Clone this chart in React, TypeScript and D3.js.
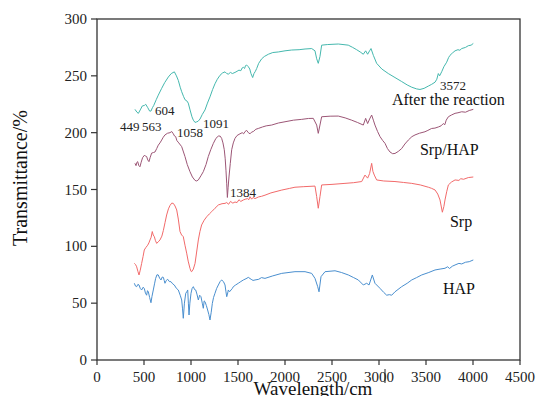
import * as d3 from 'd3';

// FTIR spectra, [wavenumber, transmittance]
const afterReaction: [number, number][] = [
  [404, 220.5], [425, 218], [440, 217], [460, 220], [482, 223.5], [505, 224], [518, 225], [540, 222],
  [560, 219], [574, 219], [590, 222], [604, 224], [630, 229], [652, 233], [688, 239], [720, 244],
  [759, 249], [790, 252], [823, 253.5], [845, 250], [865, 246], [885, 240], [901, 236], [920, 232],
  [936, 229], [955, 228], [971, 226], [990, 220], [1010, 214], [1025, 211], [1043, 209], [1060, 209.5],
  [1075, 210], [1096, 212], [1120, 216], [1149, 220], [1175, 226], [1202, 231.5], [1230, 238], [1255, 243],
  [1280, 247], [1309, 250.5], [1335, 252.5], [1362, 253.5], [1380, 252], [1397, 251.5], [1420, 253],
  [1440, 252], [1468, 253], [1490, 254], [1510, 255], [1530, 254.5], [1545, 257], [1557, 257.5],
  [1570, 256.5], [1580, 259], [1592, 259.5], [1610, 258], [1625, 256], [1638, 252], [1656, 248.5],
  [1670, 252], [1685, 254], [1699, 256.5], [1720, 261], [1752, 265], [1780, 267], [1823, 269],
  [1870, 270.5], [1929, 271], [2000, 272], [2071, 272.7], [2150, 273], [2213, 273.6], [2284, 274],
  [2319, 272], [2337, 265], [2354, 261], [2372, 267], [2390, 277], [2450, 277.5], [2567, 278],
  [2673, 277], [2720, 275], [2762, 273], [2800, 271], [2833, 269], [2858, 272], [2879, 269], [2900, 272],
  [2915, 274], [2940, 268], [2975, 261], [3030, 256], [3099, 252], [3170, 248.5], [3241, 245],
  [3300, 242], [3348, 240], [3400, 238.5], [3436, 238], [3480, 239], [3525, 241], [3560, 242.5],
  [3596, 244.4], [3615, 247], [3631, 252], [3645, 250], [3667, 253.6], [3690, 258], [3720, 262],
  [3740, 266], [3755, 268], [3780, 270], [3809, 272], [3840, 273], [3860, 272.5], [3880, 274],
  [3920, 275], [3950, 276.5], [3980, 277], [4003, 278.5],
];

const srpHap: [number, number][] = [
  [404, 173], [415, 171], [425, 174], [433, 174.5], [445, 171], [457, 170], [470, 174], [485, 178],
  [503, 180], [515, 179.5], [528, 179], [540, 176], [553, 174.5], [565, 178], [581, 182], [600, 182.5],
  [617, 183], [635, 186], [652, 189], [670, 191], [688, 193.5], [705, 196], [723, 198], [750, 199.5],
  [777, 200], [795, 201], [812, 199], [825, 197], [837, 196.5], [850, 193], [870, 191], [901, 187.7],
  [920, 183], [936, 179], [960, 172], [989, 165.7], [1015, 161], [1043, 158], [1060, 157.5],
  [1078, 158.4], [1105, 162], [1131, 165.7], [1160, 172], [1184, 179], [1210, 185], [1238, 190.6],
  [1265, 195], [1291, 197], [1310, 197], [1326, 195], [1340, 191], [1354, 185], [1364, 177],
  [1372, 167], [1380, 155], [1387, 143], [1395, 152], [1404, 161], [1418, 173], [1433, 185],
  [1450, 191], [1468, 195], [1490, 197.5], [1521, 199], [1545, 200], [1560, 199], [1575, 201],
  [1592, 202], [1610, 200], [1628, 199], [1645, 200.5], [1663, 201], [1690, 203], [1716, 203.7],
  [1760, 205], [1800, 206], [1858, 206.7], [1930, 208.5], [2000, 209.6], [2090, 211], [2178, 211.7],
  [2250, 212.5], [2301, 212.6], [2337, 206.7], [2354, 199.4], [2372, 206.7], [2390, 214], [2480, 214.5],
  [2567, 214.6], [2640, 213], [2709, 211], [2770, 209], [2833, 206.7], [2858, 212.6], [2879, 208],
  [2900, 212], [2922, 215.5], [2940, 211], [2957, 206.7], [2985, 201], [3011, 196.5], [3040, 193],
  [3064, 190.6], [3090, 186], [3117, 183], [3145, 181.5], [3170, 181.7], [3205, 183.5], [3241, 186],
  [3275, 190], [3312, 193.5], [3350, 196.5], [3383, 198], [3430, 199.5], [3489, 200.8], [3520, 202],
  [3560, 203.7], [3595, 204], [3631, 205], [3660, 206], [3684, 208], [3700, 207], [3715, 211],
  [3738, 214], [3770, 215.5], [3809, 217], [3840, 217.5], [3880, 218.4], [3920, 218], [3960, 219.5],
  [4003, 220.5],
];

const srp: [number, number][] = [
  [397, 85], [410, 84], [422, 82], [435, 78], [447, 74.8], [460, 79], [475, 85], [490, 91], [503, 96.8],
  [520, 99], [539, 101], [552, 103], [564, 105.6], [576, 108], [588, 113], [598, 110], [610, 108.5],
  [622, 105], [635, 102.6], [652, 104], [670, 105.6], [690, 109], [706, 114], [724, 121], [741, 127.6],
  [760, 133], [777, 136], [795, 138], [812, 137.8], [830, 135.5], [848, 132], [865, 124], [883, 113],
  [900, 110], [918, 108.5], [936, 101], [954, 94], [970, 87], [989, 80.7], [1000, 78], [1007, 77.7],
  [1025, 80], [1043, 85], [1060, 95], [1078, 105.6], [1095, 113], [1113, 118.8], [1140, 123],
  [1167, 126], [1195, 128.5], [1220, 130.5], [1255, 133.5], [1291, 136.4], [1330, 137.5], [1362, 137.8],
  [1380, 138.5], [1400, 137], [1420, 139.5], [1445, 138], [1468, 139], [1490, 138.5], [1510, 141],
  [1530, 139.5], [1557, 140.8], [1580, 141.5], [1600, 142], [1615, 141], [1628, 143.7], [1645, 141.5],
  [1660, 143], [1681, 142], [1720, 143.5], [1750, 144], [1787, 145], [1850, 147], [1965, 149.5],
  [2050, 151], [2106, 152], [2200, 152.5], [2319, 153], [2337, 143.7], [2354, 133.5], [2372, 143.7],
  [2390, 154], [2500, 154.5], [2638, 155.4], [2730, 156], [2816, 157], [2851, 162.7], [2879, 160],
  [2900, 164], [2922, 173], [2935, 166], [2950, 162.7], [2975, 158.4], [3050, 157.5], [3170, 157],
  [3260, 156.2], [3348, 155.4], [3440, 154], [3525, 152], [3560, 151], [3596, 149.6], [3625, 146],
  [3649, 140.8], [3674, 130], [3690, 135], [3702, 140.8], [3720, 148], [3738, 154], [3770, 156.5],
  [3809, 158.4], [3850, 158], [3870, 159.5], [3900, 159], [3950, 160.5], [4003, 161],
];

const hap: [number, number][] = [
  [397, 67.5], [410, 65], [422, 64.5], [435, 66.5], [447, 66], [460, 63], [475, 61.6], [490, 64],
  [503, 63], [515, 59], [528, 57], [537, 61], [546, 60], [560, 55], [574, 50.4], [585, 56], [599, 61.6],
  [612, 67], [624, 71.8], [638, 75], [652, 74.8], [666, 72], [681, 70.4], [694, 73], [706, 72.7],
  [715, 70], [723, 67.5], [737, 70], [752, 71], [770, 69], [787, 68.9], [805, 67], [822, 66], [845, 63],
  [865, 61.6], [885, 57], [901, 52.8], [910, 45], [918, 36.7], [930, 50], [944, 58.7], [955, 60],
  [965, 61.6], [972, 50], [979, 39.6], [988, 50], [1000, 58.7], [1012, 63], [1025, 64.5], [1038, 62],
  [1050, 61.6], [1063, 58], [1078, 52.8], [1092, 57], [1106, 55.7], [1120, 50], [1131, 45.5], [1140, 52],
  [1149, 51.3], [1163, 48], [1177, 44], [1190, 40], [1202, 35.2], [1215, 42], [1227, 49.8], [1240, 55],
  [1255, 58.7], [1273, 63], [1291, 66], [1310, 69], [1326, 70.4], [1345, 69], [1362, 66], [1372, 60],
  [1380, 55.7], [1388, 58], [1397, 61.6], [1410, 60], [1426, 61.6], [1440, 63], [1450, 64.5],
  [1475, 66], [1503, 67.5], [1530, 69], [1557, 70.4], [1585, 71.5], [1610, 72.7], [1640, 71],
  [1660, 70], [1681, 70.4], [1720, 71], [1750, 72.5], [1787, 71.8], [1870, 74], [1965, 76.2],
  [2106, 77.7], [2213, 77.7], [2284, 76.2], [2319, 71.8], [2348, 64.5], [2362, 60], [2383, 73.3],
  [2426, 77.7], [2532, 78.5], [2600, 77], [2674, 74.8], [2730, 72.5], [2780, 70.4], [2833, 66],
  [2869, 67.5], [2894, 66], [2929, 74.8], [2957, 67.5], [3011, 63], [3050, 59.5], [3082, 57],
  [3110, 57.5], [3135, 57], [3170, 60], [3241, 64.5], [3300, 67.5], [3348, 70.4], [3400, 72.5],
  [3454, 74.8], [3530, 77], [3596, 79.2], [3650, 80], [3702, 80.7], [3730, 82], [3750, 80.5],
  [3780, 82.5], [3809, 83.6], [3850, 85], [3880, 84.5], [3920, 86], [3960, 86.5], [4003, 88],
];

const xTicks = [0, 500, 1000, 1500, 2000, 2500, 3000, 3500, 4000, 4500];
const yTicks = [0, 50, 100, 150, 200, 250, 300];

// peak labels and series names, anchored in data units
const peakLabels = [
  { text: '449', x: 245, y: 201.5 },
  { text: '563', x: 479, y: 201.5 },
  { text: '604', x: 617, y: 215.5 },
  { text: '1058', x: 851, y: 196 },
  { text: '1091', x: 1128, y: 204 },
  { text: '1384', x: 1415, y: 143.4 },
  { text: '3572', x: 3649, y: 237.5 },
];
const seriesLabels = [
  { text: 'After the reaction', x: 3138, y: 224.3 },
  { text: 'Srp/HAP', x: 3436, y: 180.3 },
  { text: 'Srp', x: 3755, y: 117 },
  { text: 'HAP', x: 3681, y: 58 },
];

const series = [
  { name: 'HAP', data: hap, color: '#4a8fcf' },
  { name: 'Srp', data: srp, color: '#f26a6a' },
  { name: 'Srp/HAP', data: srpHap, color: '#9c5676' },
  { name: 'After the reaction', data: afterReaction, color: '#45b8ae' },
];

const font = '"Liberation Serif", "Times New Roman", serif';

export default function App() {
  const width = 536;
  const height = 396;
  const x = d3.scaleLinear().domain([0, 4500]).range([97, 520]);
  const y = d3.scaleLinear().domain([0, 300]).range([360, 19]);
  const line = d3
    .line<[number, number]>()
    .x((d) => x(d[0]))
    .y((d) => y(d[1]));

  const axisColor = '#333';

  return (
    <svg
      width={width}
      height={height}
      style={{ position: 'absolute', left: 0, top: 0, background: '#fff' }}
      fontFamily={font}
    >
      {series.map((s) => (
        <path key={s.name} d={line(s.data) ?? ''} fill="none" stroke={s.color} strokeWidth={1} />
      ))}

      {/* frame */}
      <rect x={x(0)} y={y(300)} width={x(4500) - x(0)} height={y(0) - y(300)} fill="none" stroke={axisColor} strokeWidth={1.3} />

      {yTicks.map((t) => (
        <g key={t}>
          <line x1={x(0) - 6} x2={x(0)} y1={y(t)} y2={y(t)} stroke={axisColor} strokeWidth={1.2} />
          <text x={x(0) - 10} y={y(t) + 5} textAnchor="end" fontSize={15} fill="#222">
            {t}
          </text>
        </g>
      ))}
      {xTicks.map((t) => (
        <g key={t}>
          <line x1={x(t)} x2={x(t)} y1={y(0)} y2={y(0) + 5} stroke={axisColor} strokeWidth={1.2} />
          <text x={x(t)} y={382} textAnchor="middle" fontSize={15} fill="#222">
            {t}
          </text>
        </g>
      ))}

      {peakLabels.map((l) => (
        <text key={l.text} x={x(l.x)} y={y(l.y)} fontSize={13} fill="#222">
          {l.text}
        </text>
      ))}
      {seriesLabels.map((l) => (
        <text key={l.text} x={x(l.x)} y={y(l.y)} fontSize={16} fill="#111">
          {l.text}
        </text>
      ))}

      <text transform="translate(27,178) rotate(-90)" textAnchor="middle" fontSize={20} fill="#111">
        Transmittance/%
      </text>
      <text x={313} y={395} textAnchor="middle" fontSize={19} fill="#111">
        Wavelength/cm
      </text>
      <line x1={385} x2={385} y1={369} y2={383} stroke="#222" strokeWidth={1} />
    </svg>
  );
}
